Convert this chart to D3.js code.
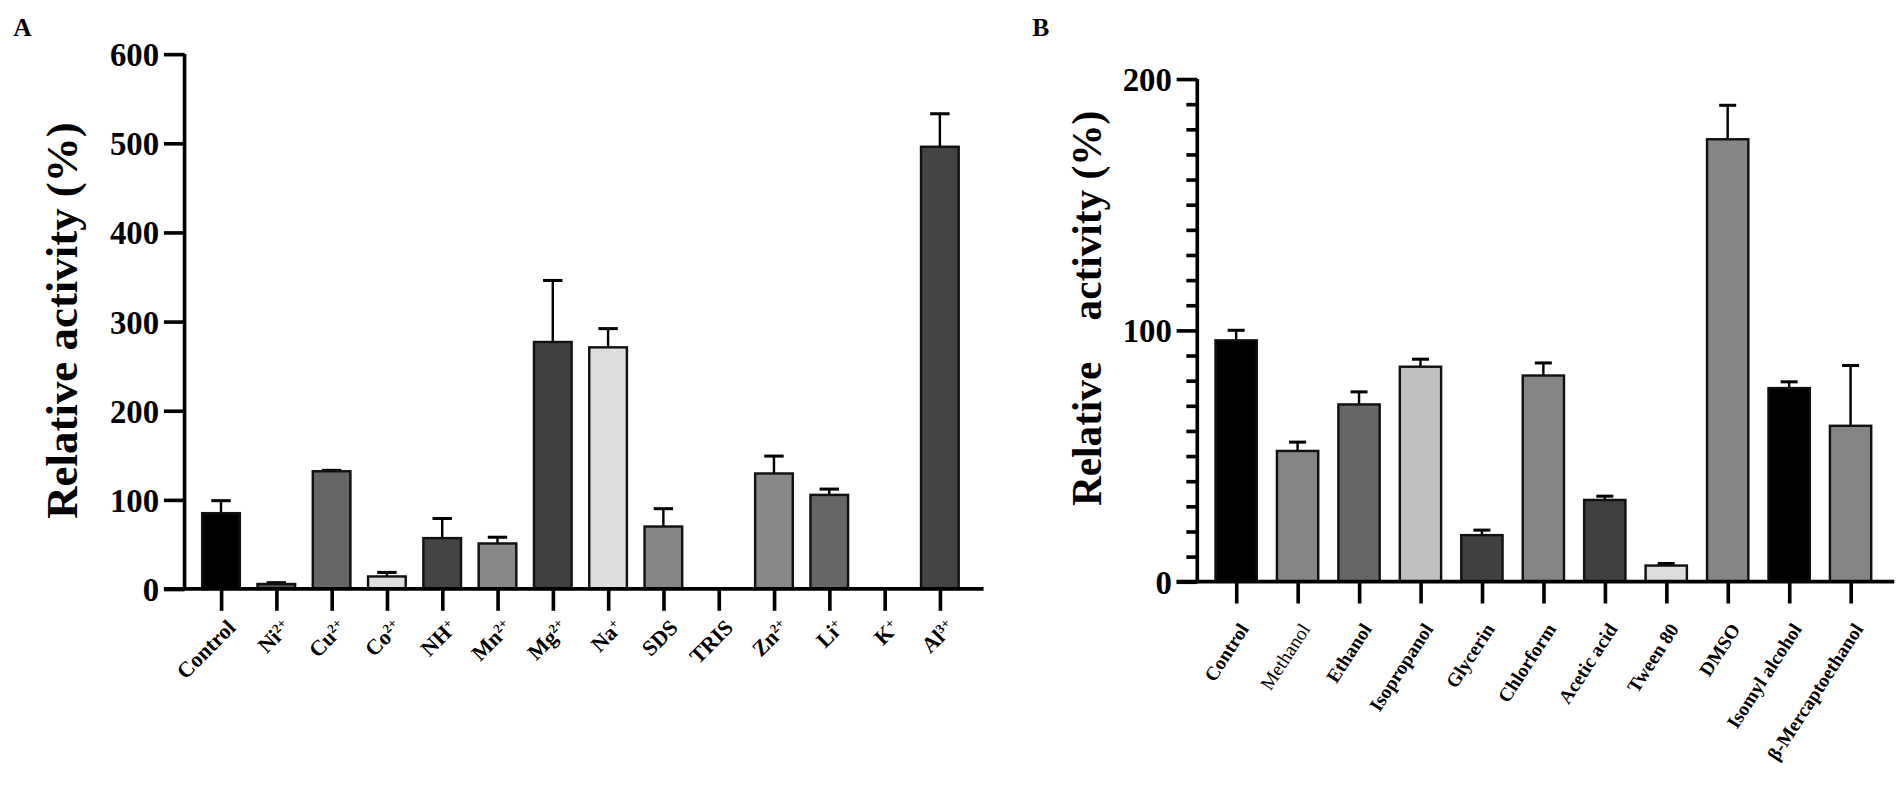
<!DOCTYPE html>
<html><head><meta charset="utf-8">
<script src="https://cdn.jsdelivr.net/npm/d3@7"></script>
<style>body{margin:0;background:#fff}svg text{font-family:"Liberation Serif","Times New Roman",serif}</style>
</head><body>
<svg id="c" width="1904" height="804"></svg>
<script>
// Panel A data
const catsA = ["Control","Ni","Cu","Co","NH","Mn","Mg","Na","SDS","TRIS","Zn","Li","K","Al"];
const supA  = ["","2+","2+","2+","+","2+","2+","+","","","2+","+","+","3+"];
const valsA = [85, 5.5, 132, 14, 57, 51, 277, 271, 70, 0, 129.5, 105.5, 0, 496];
const errA  = [99, 7, 133, 18.5, 79, 58, 346, 292, 90, 0, 149, 112, 0, 533];
const colA  = ["#000000","#555555","#666666","#dddddd","#444444","#888888","#404040","#dddddd","#858585","#ffffff","#888888","#666666","#ffffff","#444444"];
const ticksA = [0,100,200,300,400,500,600];

// Panel B data
const catsB = ["Control","Methanol","Ethanol","Isopropanol","Glycerin","Chlorform","Acetic acid","Tween 80","DMSO","Isomyl alcohol","β-Mercaptoethanol"];
const valsB = [96, 52, 70.5, 85.5, 18.5, 82, 32.5, 6.4, 176, 77, 62];
const errB  = [100, 55.5, 75.5, 88.5, 20.5, 87, 34, 7.2, 189.5, 79.5, 86];
const colB  = ["#000000","#858585","#666666","#c0c0c0","#404040","#858585","#404040","#dddddd","#858585","#000000","#858585"];
const ticksB = [0,100,200];

const S = 1904/1568;
const svg = d3.select("#c").append("g").attr("transform",`scale(${S})`);

function panel(o){
  const g = svg.append("g");
  const y = d3.scaleLinear().domain(o.domain).range([o.y0, o.y1]);
  const x = d3.scalePoint().domain(o.cats).range([o.xFirst, o.xLast]);
  o.cats.forEach((c,i)=>{
    if(o.vals[i] <= 0) return;
    const cx = x(c);
    g.append("line").attr("x1",cx).attr("x2",cx).attr("y1",y(o.vals[i])).attr("y2",y(o.errs[i]))
      .attr("stroke","#000").attr("stroke-width",2);
    g.append("line").attr("x1",cx-o.cap/2).attr("x2",cx+o.cap/2).attr("y1",y(o.errs[i])).attr("y2",y(o.errs[i]))
      .attr("stroke","#000").attr("stroke-width",2.5);
    g.append("rect").attr("x",cx-o.bw/2).attr("width",o.bw)
      .attr("y",y(o.vals[i])).attr("height",Math.max(0,y(0)-y(o.vals[i])))
      .attr("fill",o.cols[i]).attr("stroke","#111").attr("stroke-width",2);
  });
  const ya = g.append("g").attr("transform",`translate(${o.axX},0)`)
    .call(d3.axisLeft(y).tickValues(o.minor || o.ticks).tickSize(o.tickLen).tickPadding(3).tickFormat(d=> o.ticks.includes(d)? d : ""));
  ya.select(".domain").attr("stroke-width",3).attr("d",`M0,${o.y1}V${o.y0}`);
  ya.selectAll(".tick line").attr("stroke-width",3)
    .attr("x2", d => o.ticks.includes(d) ? -o.tickLen : -(o.minorLen || o.tickLen));
  ya.selectAll(".tick text").attr("font-size",o.tickFont).attr("font-weight","bold")
    .attr("font-family","Liberation Serif").attr("fill","#000").attr("dx",-1).attr("dy","0.35em");
  const xa = g.append("g").attr("transform",`translate(0,${o.y0})`)
    .call(d3.axisBottom(x).tickSize(18).tickFormat(""));
  xa.select(".domain").attr("stroke-width",3).attr("d",`M${o.axX - o.tickLen},0H${o.axEnd}`);
  xa.selectAll(".tick line").attr("stroke-width",3);
  o.cats.forEach((c,i)=>{
    const t = g.append("text")
      .attr("transform",`translate(${x(c)+o.lblDx},${o.y0+o.lblDy}) rotate(${-o.angle})`)
      .attr("text-anchor","end").attr("font-size",o.lblFont)
      .attr("font-weight", (o.light && o.light.includes(c)) ? "normal":"bold").attr("fill","#000");
    t.append("tspan").text(c);
    if(o.sups && o.sups[i]) t.append("tspan").attr("baseline-shift","super").attr("font-size",o.lblFont*0.6).text(o.sups[i]);
  });
  g.append("text").attr("transform",`translate(${o.titleX},${o.titleY}) rotate(-90)`)
    .attr("text-anchor","middle").attr("font-size",o.titleFont).attr("font-weight","bold")
    .attr("style","white-space:pre").attr("fill","#000").text(o.title);
}

panel({cats:catsA, vals:valsA, errs:errA, cols:colA, sups:supA, ticks:ticksA,
  domain:[0,600], y0:485, y1:44.5, xFirst:182, xLast:774, bw:31, cap:16,
  axX:152, tickLen:17, tickFont:27, axEnd:810, angle:45,
  lblDx:13, lblDy:33, lblFont:18, title:"Relative activity (%)", titleX:63, titleY:264, titleFont:37});

panel({cats:catsB, vals:valsB, errs:errB, cols:colB, ticks:ticksB, minor:d3.range(0,201,10),
  domain:[0,200], y0:479, y1:65, xFirst:1018, xLast:1524, bw:34, cap:14,
  axX:986, tickLen:17, minorLen:9, tickFont:27, axEnd:1560, angle:57,
  lblDx:11, lblDy:39, lblFont:16, light:["Methanol"],
  title:"Relative    activity (%)", titleX:907, titleY:254, titleFont:34});

svg.append("text").attr("x",11).attr("y",30).attr("font-family","Liberation Sans").attr("font-weight","bold").attr("font-size",21).text("A");
svg.append("text").attr("x",850).attr("y",30).attr("font-family","Liberation Sans").attr("font-weight","bold").attr("font-size",21).text("B");
</script>
</body></html>
